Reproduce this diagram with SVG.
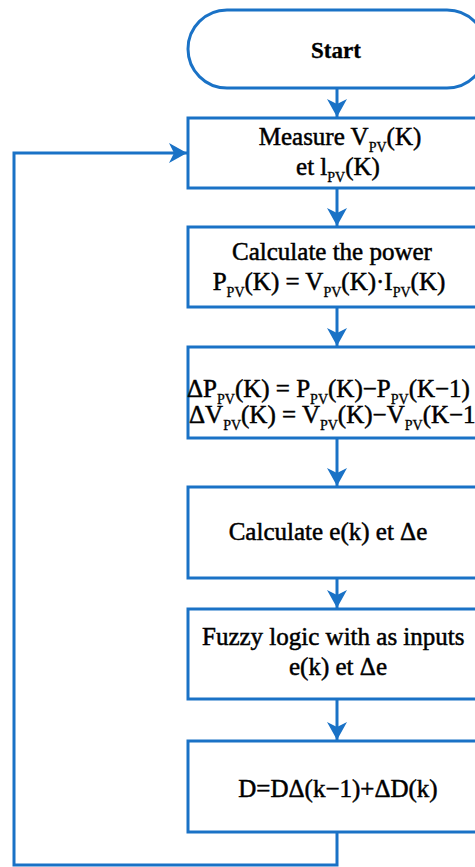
<svg xmlns="http://www.w3.org/2000/svg" width="475" height="867" viewBox="0 0 475 867">
<defs>
<style>
.box{fill:#fff;stroke:#1a72c6;stroke-width:3}
.ln{fill:none;stroke:#1a72c6;stroke-width:3}
text{font-family:"Liberation Serif","Times New Roman",serif;font-size:25px;fill:#000;stroke:#000;stroke-width:0.5}
.m{text-anchor:middle}
.b{font-size:23px;font-weight:bold;stroke-width:0.3}
.s{font-size:14px;stroke-width:0.3}
</style>
<marker id="ah" markerUnits="userSpaceOnUse" markerWidth="22" markerHeight="20" refX="18" refY="10" orient="auto">
<path d="M0,0 L18,10 L0,20 L5,10 Z" fill="#1a72c6"/>
</marker>
</defs>
<rect width="475" height="867" fill="#fff"/>
<g id="connectors">
<line class="ln" x1="337" y1="88" x2="337" y2="117" marker-end="url(#ah)"/>
<line class="ln" x1="337" y1="188" x2="337" y2="226" marker-end="url(#ah)"/>
<line class="ln" x1="337" y1="307" x2="337" y2="346" marker-end="url(#ah)"/>
<line class="ln" x1="337" y1="438" x2="337" y2="486" marker-end="url(#ah)"/>
<line class="ln" x1="337" y1="578" x2="337" y2="608" marker-end="url(#ah)"/>
<line class="ln" x1="337" y1="699" x2="337" y2="740" marker-end="url(#ah)"/>
<path class="ln" d="M337,832 V865 H14 V153 H187" marker-end="url(#ah)"/>
</g>
<g id="start">
<rect class="box" x="188" y="10" width="298" height="78" rx="39"/>
<text class="m b" x="336" y="58">Start</text>
</g>
<g id="measure">
<rect class="box" x="188" y="118" width="298" height="70"/>
<text class="m" x="340" y="145">Measure V<tspan class="s" dy="7">PV</tspan><tspan dy="-7">(K)</tspan></text>
<text class="m" x="338" y="175">et l<tspan class="s" dy="7">PV</tspan><tspan dy="-7">(K)</tspan></text>
</g>
<g id="power">
<rect class="box" x="188" y="227" width="298" height="80"/>
<text class="m" x="332" y="260">Calculate the power</text>
<text class="m" x="329" y="290">P<tspan class="s" dy="7">PV</tspan><tspan dy="-7">(K) = V</tspan><tspan class="s" dy="7">PV</tspan><tspan dy="-7">(K)·I</tspan><tspan class="s" dy="7">PV</tspan><tspan dy="-7">(K)</tspan></text>
</g>
<g id="delta">
<rect class="box" x="188" y="347" width="298" height="91"/>
<text x="187" y="397">ΔP<tspan class="s" dy="7">PV</tspan><tspan dy="-7">(K) = P</tspan><tspan class="s" dy="7">PV</tspan><tspan dy="-7">(K)−P</tspan><tspan class="s" dy="7">PV</tspan><tspan dy="-7">(K−1)</tspan></text>
<text x="189" y="423">ΔV<tspan class="s" dy="7">PV</tspan><tspan dy="-7">(K) = V</tspan><tspan class="s" dy="7">PV</tspan><tspan dy="-7">(K)−V</tspan><tspan class="s" dy="7">PV</tspan><tspan dy="-7">(K−1)</tspan></text>
</g>
<g id="error">
<rect class="box" x="188" y="487" width="298" height="91"/>
<text class="m" x="328" y="540">Calculate e(k) et Δe</text>
</g>
<g id="fuzzy">
<rect class="box" x="188" y="609" width="298" height="90"/>
<text x="202" y="645">Fuzzy logic with as inputs</text>
<text class="m" x="338" y="675">e(k) et Δe</text>
</g>
<g id="duty">
<rect class="box" x="188" y="741" width="298" height="91"/>
<text class="m" x="338" y="797">D=DΔ(k−1)+ΔD(k)</text>
</g>
</svg>
